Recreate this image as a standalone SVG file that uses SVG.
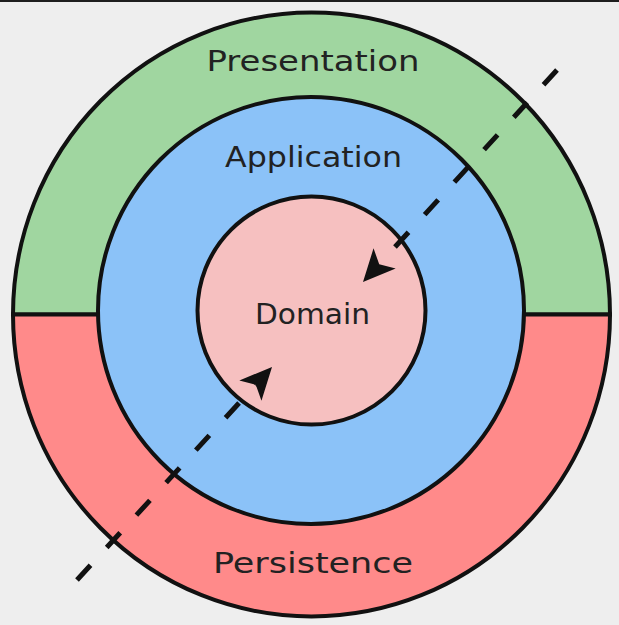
<svg xmlns="http://www.w3.org/2000/svg" width="619" height="625" viewBox="0 0 619 625">
  <style>
    .ring { stroke: #111; stroke-width: 4; }
    .label { font-family: "DejaVu Sans", "Liberation Sans", sans-serif; font-size: 28px; fill: #222; text-anchor: middle; }
    .dep { fill: none; stroke: #111; stroke-width: 5; stroke-dasharray: 20 24; }
  </style>
  <defs>
    <marker id="arrow" markerUnits="userSpaceOnUse" viewBox="0 0 34 30" markerWidth="34" markerHeight="30" refX="8" refY="15" orient="auto">
      <path d="M 32 15 L 0 0 L 8 15 L 0 30 Z" fill="#111"/>
    </marker>
  </defs>
  <rect x="0" y="0" width="619" height="625" fill="#eeeeee"/>
  <rect x="0" y="0" width="619" height="2" fill="#1e1e1e"/>

  <g id="presentation">
    <path class="ring" d="M 13 314.5 A 298.5 302 0 0 1 610 314.5 Z" fill="#a0d6a0"/>
    <text class="label" x="313" y="71" textLength="213" lengthAdjust="spacingAndGlyphs">Presentation</text>
  </g>
  <g id="persistence">
    <path class="ring" d="M 13 314.5 A 298.5 302 0 0 0 610 314.5 Z" fill="#ff8a8a"/>
    <text class="label" x="313" y="573" textLength="200" lengthAdjust="spacingAndGlyphs">Persistence</text>
  </g>
  <g id="application">
    <ellipse class="ring" cx="311" cy="310.5" rx="213" ry="213.5" fill="#8bc2f8"/>
    <text class="label" x="313.5" y="167" textLength="177" lengthAdjust="spacingAndGlyphs">Application</text>
  </g>
  <g id="domain">
    <circle class="ring" cx="311.5" cy="310.5" r="114" fill="#f6c0c0"/>
    <text class="label" x="312.5" y="324" textLength="115" lengthAdjust="spacingAndGlyphs">Domain</text>
  </g>

  <g id="connectors">
    <path class="dep" d="M 557 70 L 379.2 264.3" marker-end="url(#arrow)"/>
    <path class="dep" d="M 77 580 L 255.8 384.7" marker-end="url(#arrow)"/>
  </g>
</svg>
